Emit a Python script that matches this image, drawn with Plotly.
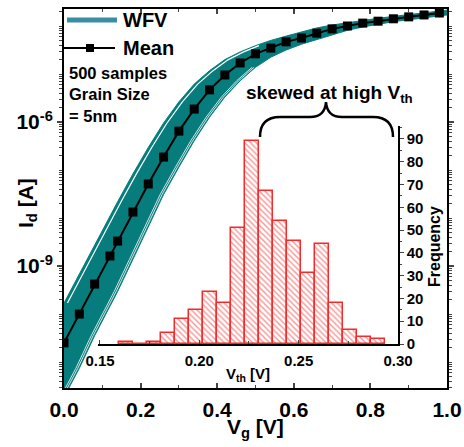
import plotly.graph_objects as go

# ---------------- data ----------------
vg = [0, 0.04, 0.08, 0.12, 0.14, 0.18, 0.22, 0.26, 0.30, 0.34, 0.38, 0.42, 0.46,
      0.50, 0.54, 0.58, 0.62, 0.66, 0.70, 0.74, 0.78, 0.82, 0.86, 0.90, 0.94, 0.98]
mean_log10 = [-10.60, -10.00, -9.375, -8.79, -8.48, -7.875, -7.29, -6.73, -6.19, -5.73,
              -5.33, -5.02, -4.77, -4.58, -4.46, -4.33, -4.25, -4.15, -4.06, -4.00,
              -3.94, -3.90, -3.85, -3.81, -3.77, -3.73]

vg_band = vg + [1.0]
upper_log10 = [-9.77, -9.16, -8.56, -7.95, -7.66, -7.08, -6.53, -6.02, -5.58, -5.21,
               -4.93, -4.70, -4.54, -4.41, -4.30, -4.21, -4.12, -4.04, -3.98, -3.93,
               -3.88, -3.84, -3.80, -3.76, -3.72, -3.69, -3.67]
lower_log10 = [-11.73, -11.13, -10.45, -9.84, -9.53, -8.86, -8.18, -7.51, -6.94, -6.39,
               -5.90, -5.48, -5.14, -4.86, -4.65, -4.50, -4.38, -4.28, -4.19, -4.09,
               -4.02, -3.96, -3.91, -3.87, -3.83, -3.79, -3.77]

vth_bins = [0.1632, 0.1703, 0.1773, 0.1844, 0.1914, 0.1985, 0.2055, 0.2126, 0.2196,
            0.2267, 0.2337, 0.2408, 0.2478, 0.2549, 0.2619, 0.2690, 0.2760, 0.2831, 0.2901]
vth_counts = [1, 0, 1, 5, 11, 15, 23, 18, 51, 89, 67, 54, 45, 31, 44, 18, 6, 3, 2]

x_ticks = [0.0, 0.2, 0.4, 0.6, 0.8, 1.0]
x_ticktext = ["0.0", "0.2", "0.4", "0.6", "0.8", "1.0"]
y_ticks = [1e-9, 1e-6]
y_ticktext = ["10<sup>-9</sup>", "10<sup>-6</sup>"]
x2_ticks = [0.15, 0.20, 0.25, 0.30]
x2_ticktext = ["0.15", "0.20", "0.25", "0.30"]

# ---------------- style ----------------
W, H = 464, 447
ML, MR, MT, MB = 64, 17, 9, 59
PW, PH = W - ML - MR, H - MT - MB
FONT = "Liberation Sans, Arial, sans-serif"
TEAL = "#077C7C"
TEAL_LEG = "#3A8EA4"
RED = "#F22B2B"


def px(x):
    return (x - ML) / PW


def py(y):
    return (H - MB - y) / PH


mean_I = [10 ** v for v in mean_log10]
upper_I = [10 ** v for v in upper_log10]
lower_I = [10 ** v for v in lower_log10]

fig = go.Figure()

# WFV band
fig.add_trace(go.Scatter(x=vg_band, y=lower_I, mode="lines",
                         line=dict(color=TEAL, width=1), showlegend=False, hoverinfo="skip"))
fig.add_trace(go.Scatter(x=vg_band, y=upper_I, mode="lines", fill="tonexty",
                         fillcolor=TEAL, line=dict(color=TEAL, width=1),
                         showlegend=False, hoverinfo="skip"))
# white gaps between individual curves (lower part of band)
nw = 14
fig.add_trace(go.Scatter(x=[v + 0.009 for v in vg_band[:nw]], y=upper_I[:nw], mode="lines",
                         line=dict(color="white", width=1.2), showlegend=False, hoverinfo="skip"))
for dx in (-0.004, -0.009):
    fig.add_trace(go.Scatter(x=[v + dx for v in vg_band[:nw]], y=lower_I[:nw], mode="lines",
                             line=dict(color="white", width=0.8), showlegend=False,
                             hoverinfo="skip"))
# mean
fig.add_trace(go.Scatter(x=vg, y=mean_I, mode="lines+markers",
                         line=dict(color="black", width=2),
                         marker=dict(symbol="square", size=9, color="black"),
                         showlegend=False))

# inset histogram
fig.add_trace(go.Bar(x=vth_bins, y=vth_counts, width=0.00705, xaxis="x2", yaxis="y2",
                     marker=dict(color="white",
                                 pattern=dict(shape="\\", fgcolor=RED, bgcolor="white",
                                              size=4, solidity=0.35),
                                 line=dict(color=RED, width=1.5)),
                     showlegend=False))

minor_y = [m * 10.0 ** k for k in range(-13, -2) for m in range(1, 10)
           if m * 10.0 ** k not in y_ticks]

fig.update_layout(
    width=W, height=H, margin=dict(l=ML, r=MR, t=MT, b=MB),
    paper_bgcolor="white", plot_bgcolor="rgba(0,0,0,0)",
    font=dict(family=FONT, color="black", weight="bold"),
    bargap=0,
    xaxis=dict(domain=[0, 1], range=[0, 1], tickvals=x_ticks, ticktext=x_ticktext,
               ticks="inside", ticklen=5, tickwidth=1.5, showline=True, linewidth=2,
               linecolor="black", mirror="ticks", showgrid=False, zeroline=False,
               tickfont=dict(size=21, family=FONT, weight="bold"),
               minor=dict(dtick=0.1, ticks="inside", ticklen=3, tickwidth=1.2),
               ticklabelstandoff=2, automargin=False),
    yaxis=dict(domain=[0, 1], type="log", range=[-11.54, -3.646], tickvals=y_ticks,
               ticktext=y_ticktext, ticks="outside", ticklen=5, tickwidth=1.5,
               showline=True, linewidth=2, linecolor="black", mirror="ticks",
               showgrid=False, zeroline=False, automargin=False,
               tickfont=dict(size=21, family=FONT, weight="bold"),
               minor=dict(tickvals=minor_y, ticks="outside", ticklen=3, tickwidth=1)),
    xaxis2=dict(domain=[px(98), px(398)], anchor="y2", range=[0.149, 0.30],
                tickvals=x2_ticks, ticktext=x2_ticktext, ticks="inside", ticklen=4,
                tickwidth=1.2, showline=True, linewidth=1.5, linecolor="black",
                showgrid=False, zeroline=False, automargin=False,
                tickfont=dict(size=15, family=FONT, weight="bold"),
                minor=dict(dtick=0.025, tick0=0.15, ticks="inside", ticklen=3, tickwidth=1),
                ticklabelstandoff=2),
    yaxis2=dict(domain=[py(344), py(126)], anchor="x2", side="right", range=[0, 95.7],
                dtick=10, ticks="outside", ticklen=4, tickwidth=1.2, showline=True,
                linewidth=1.5, linecolor="black", showgrid=False, zeroline=False,
                automargin=False,
                tickfont=dict(size=15, family=FONT, weight="bold"),
                minor=dict(dtick=5, ticks="outside", ticklen=2, tickwidth=1)),
)

# brace over the high-Vth tail (pixel anchors -> paper)
bx0, bx1, bxm, by0, by1, bym = 260, 393, 326, 137, 117, 102
brace = (f"M {px(bx0)},{py(by0)} "
         f"Q {px(bx0)},{py(by1)} {px(bx0 + 20)},{py(by1)} "
         f"L {px(bxm - 16)},{py(by1)} "
         f"Q {px(bxm - 1)},{py(by1)} {px(bxm)},{py(bym)} "
         f"Q {px(bxm + 1)},{py(by1)} {px(bxm + 16)},{py(by1)} "
         f"L {px(bx1 - 20)},{py(by1)} "
         f"Q {px(bx1)},{py(by1)} {px(bx1)},{py(by0)}")

shapes = [
    dict(type="path", xref="paper", yref="paper", path=brace,
         line=dict(color="black", width=2.5)),
    dict(type="line", xref="paper", yref="paper", x0=px(67), x1=px(117), y0=py(20), y1=py(20),
         line=dict(color=TEAL_LEG, width=5)),
    dict(type="line", xref="paper", yref="paper", x0=px(64), x1=px(115), y0=py(48), y1=py(48),
         line=dict(color="black", width=2)),
    dict(type="rect", xref="paper", yref="paper", x0=px(86), x1=px(94), y0=py(52), y1=py(44),
         fillcolor="black", line=dict(width=0)),
]
fig.update_layout(shapes=shapes)


def ann(text, x, y, size, xanchor="center", yanchor="middle", angle=0, align="center"):
    fig.add_annotation(text=text, x=px(x), y=py(y), xref="paper", yref="paper",
                       showarrow=False, xanchor=xanchor, yanchor=yanchor, textangle=angle,
                       align=align, font=dict(size=size, family=FONT, weight="bold",
                                              color="black"))


ann("WFV", 121, 20, 20, xanchor="left")
ann("Mean", 121, 48, 20, xanchor="left")
ann("500 samples<br>Grain Size<br>= 5nm", 67, 62, 16.5, xanchor="left", yanchor="top",
    align="left")
ann("skewed at high V<sub>th</sub>", 244, 94, 19, xanchor="left")
ann("I<sub>d</sub> [A]", 27, 203, 21, angle=-90)
ann("V<sub>g</sub> [V]", 256, 428, 21)
ann("Frequency", 434, 247, 16, angle=-90)
ann("V<sub>th</sub> [V]", 248, 374, 15)

fig.write_html("out.html",
               config={"displayModeBar": False},
               post_script="document.body.style.margin='0';"
                           "document.body.style.overflow='hidden';")
